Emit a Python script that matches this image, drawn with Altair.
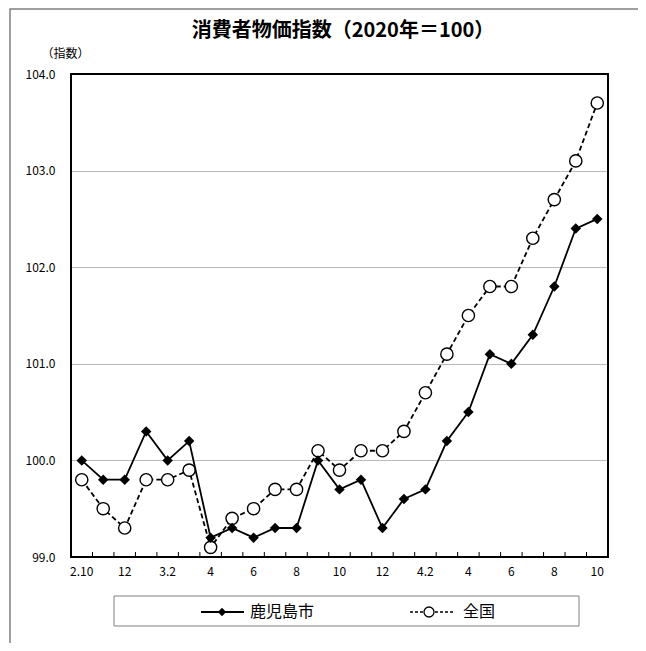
import altair as alt
import pandas as pd

# ---- data ----
months = ["2020-10", "2020-11", "2020-12",
          "2021-01", "2021-02", "2021-03", "2021-04", "2021-05", "2021-06",
          "2021-07", "2021-08", "2021-09", "2021-10", "2021-11", "2021-12",
          "2022-01", "2022-02", "2022-03", "2022-04", "2022-05", "2022-06",
          "2022-07", "2022-08", "2022-09", "2022-10"]
tick_labels = ["2.10", "", "12", "", "3.2", "", "4", "", "6", "", "8", "", "10",
               "", "12", "", "4.2", "", "4", "", "6", "", "8", "", "10"]
kagoshima = [100.0, 99.8, 99.8, 100.3, 100.0, 100.2, 99.2, 99.3, 99.2, 99.3,
             99.3, 100.0, 99.7, 99.8, 99.3, 99.6, 99.7, 100.2, 100.5, 101.1,
             101.0, 101.3, 101.8, 102.4, 102.5]
national = [99.8, 99.5, 99.3, 99.8, 99.8, 99.9, 99.1, 99.4, 99.5, 99.7,
            99.7, 100.1, 99.9, 100.1, 100.1, 100.3, 100.7, 101.1, 101.5, 101.8,
            101.8, 102.3, 102.7, 103.1, 103.7]
series_names = ["鹿児島市", "全国"]
title_text = "消費者物価指数（2020年＝100）"
y_title = "（指数）"

FONT = "Noto Sans CJK JP"
W, H = 537, 483

df_k = pd.DataFrame({"idx": list(range(len(months))), "month": months, "value": kagoshima})
df_n = pd.DataFrame({"idx": list(range(len(months))), "month": months, "value": national})

label_js = "[" + ",".join("'" + s + "'" for s in tick_labels) + "]"

x_enc = alt.X("idx:O",
              scale=alt.Scale(paddingInner=0, paddingOuter=0),
              axis=alt.Axis(title=None, labelAngle=0, ticks=False, domain=False,
                            labelExpr=label_js + "[datum.value]",
                            labelFont=FONT, labelFontSize=12, labelColor="#000",
                            labelPadding=9, labelOverlap=False))
y_enc = alt.Y("value:Q",
              scale=alt.Scale(domain=[99, 104], nice=False, zero=False),
              axis=alt.Axis(title=y_title, titleAngle=0, titleX=-6, titleY=-21,
                            titleAlign="center", titleBaseline="middle",
                            titleFont=FONT, titleFontSize=12, titleFontWeight="normal",
                            titleColor="#000",
                            values=[99, 100, 101, 102, 103, 104], format=".1f",
                            ticks=False, domain=False, labelPadding=16,
                            labelFont=FONT, labelFontSize=12, labelColor="#000",
                            grid=True, gridColor="#777", gridDash=[1, 1],
                            gridWidth=1))

base_n = alt.Chart(df_n)
base_k = alt.Chart(df_k)

line_n = base_n.mark_line(color="#000", strokeWidth=1.8, strokeDash=[5, 3]).encode(x=x_enc, y=y_enc)
pts_n = base_n.mark_point(shape="circle", filled=True, fill="white", stroke="#000",
                          strokeWidth=1.4, size=150, opacity=1).encode(x="idx:O", y="value:Q")
line_k = base_k.mark_line(color="#000", strokeWidth=1.8).encode(x="idx:O", y="value:Q")
pts_k = base_k.mark_point(shape="diamond", filled=True, color="#000",
                          size=110, opacity=1).encode(x="idx:O", y="value:Q")

# inward tick marks at category boundaries
ticks = alt.Chart(df_k).mark_rule(color="#000", strokeWidth=1).encode(
    x=alt.X("idx:O", bandPosition=0),
    y=alt.value(H), y2=alt.value(H - 5))

one = alt.Data(values=[{"a": 1}])

# outer frame and plot frame
frame = alt.Chart(one).mark_rect(fill=None, stroke="#808080", strokeWidth=1.5).encode(
    x=alt.value(-61), x2=alt.value(570), y=alt.value(-65), y2=alt.value(620))
plot_frame = alt.Chart(one).mark_rect(fill=None, stroke="#000", strokeWidth=2).encode(
    x=alt.value(0), x2=alt.value(W), y=alt.value(0), y2=alt.value(H))

# title
title = alt.Chart(one).mark_text(align="center", baseline="middle", font=FONT,
                                 fontSize=20, fontWeight="bold", color="#000",
                                 text=title_text).encode(
    x=alt.value(272), y=alt.value(-43))

# legend
LY = 538
leg_box = alt.Chart(one).mark_rect(fill="white", stroke="#808080", strokeWidth=1).encode(
    x=alt.value(43), x2=alt.value(508), y=alt.value(522), y2=alt.value(552))
leg_line_k = alt.Chart(one).mark_rule(color="#000", strokeWidth=1.8).encode(
    x=alt.value(130), x2=alt.value(173), y=alt.value(LY))
leg_pt_k = alt.Chart(one).mark_point(shape="diamond", filled=True, color="#000",
                                     size=70, opacity=1).encode(
    x=alt.value(151), y=alt.value(LY))
leg_txt_k = alt.Chart(one).mark_text(align="left", baseline="middle", font=FONT,
                                     fontSize=16, color="#000",
                                     text=series_names[0]).encode(
    x=alt.value(179), y=alt.value(LY))
leg_line_n = alt.Chart(one).mark_rule(color="#000", strokeWidth=1.5, strokeDash=[3, 2]).encode(
    x=alt.value(339), x2=alt.value(382), y=alt.value(LY))
leg_pt_n = alt.Chart(one).mark_point(shape="circle", filled=True, fill="white",
                                     stroke="#000", strokeWidth=1.3, size=100,
                                     opacity=1).encode(
    x=alt.value(358), y=alt.value(LY))
leg_txt_n = alt.Chart(one).mark_text(align="left", baseline="middle", font=FONT,
                                     fontSize=16, color="#000",
                                     text=series_names[1]).encode(
    x=alt.value(392), y=alt.value(LY))

chart = alt.layer(
    frame, line_n, ticks, pts_n, line_k, pts_k, plot_frame, title,
    leg_box, leg_line_k, leg_pt_k, leg_txt_k, leg_line_n, leg_pt_n, leg_txt_n
).properties(
    width=W, height=H,
    autosize=alt.AutoSizeParams(type="none"),
    padding={"left": 63, "top": 66, "right": 30, "bottom": 86},
).configure_view(
    stroke=None
).configure(background="white")

chart.save("out.html", embed_options={"renderer": "svg", "actions": False})
